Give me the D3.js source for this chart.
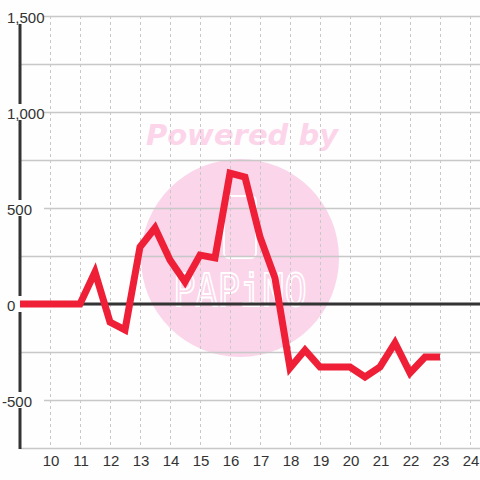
<!DOCTYPE html>
<html>
<head>
<meta charset="utf-8">
<script src="https://cdn.jsdelivr.net/npm/d3@7"></script>
<style>
  body { margin: 0; background: #fdfefd; }
  svg { display: block; font-family: "Liberation Sans", Arial, sans-serif; }
</style>
</head>
<body>
<svg width="480" height="480"></svg>
<script>
  const xs = [9, 9.5, 10, 10.5, 11, 11.5, 12, 12.5, 13, 13.5, 14, 14.5, 15, 15.5,
              16, 16.5, 17, 17.5, 18, 18.5, 19, 19.5, 20, 20.5, 21, 21.5, 22, 22.5, 23];
  const values = [0, 0, 0, 0, 0, 167, -94, -135, 297, 396, 229, 115, 255, 240,
                  682, 661, 349, 135, -333, -240, -328, -328, -328, -380, -328, -203, -359, -276, -276];
  const yTicks = [-500, 0, 500, 1000, 1500];
  const yGrid = [-750, -500, -250, 0, 250, 500, 750, 1000, 1250, 1500];
  const xTicks = [10, 11, 12, 13, 14, 15, 16, 17, 18, 19, 20, 21, 22, 23, 24];

  const svg = d3.select('svg');

  const x = d3.scaleLinear().domain([9, 24]).range([20, 470]);
  const y = d3.scaleLinear().domain([-750, 1500]).range([448, 16]);

  // watermark
  const wm = svg.append('g');
  wm.append('circle').attr('cx', 240).attr('cy', 258).attr('r', 99).attr('fill', '#fbd5ea');
  wm.append('text')
    .attr('x', 242).attr('y', 145)
    .attr('text-anchor', 'middle')
    .attr('font-family', 'DejaVu Sans, sans-serif')
    .attr('font-size', 29).attr('font-weight', 'bold').attr('font-style', 'italic')
    .attr('fill', '#fcd5ea')
    .text('Powered by');
  wm.append('rect')
    .attr('x', 224).attr('y', 196).attr('width', 32).attr('height', 62).attr('rx', 5)
    .attr('fill', 'none').attr('stroke', '#fff').attr('stroke-width', 2);
  wm.append('text')
    .attr('transform', 'translate(240,306) scale(1,1.2)')
    .attr('text-anchor', 'middle')
    .attr('font-size', 37).attr('letter-spacing', 0)
    .attr('fill', 'none').attr('stroke', '#fff').attr('stroke-width', 1.5)
    .attr('font-family', 'DejaVu Sans Mono, monospace')
    .text('PAPiNO');

  // grid
  svg.append('g').selectAll('line').data(yGrid).enter().append('line')
    .attr('x1', 20).attr('x2', 480)
    .attr('y1', d => y(d) + 0.5).attr('y2', d => y(d) + 0.5)
    .attr('stroke', '#c8c8c8').attr('stroke-width', 1.5);

  svg.append('g').selectAll('line').data(xTicks).enter().append('line')
    .attr('x1', d => x(d) + 0.5).attr('x2', d => x(d) + 0.5)
    .attr('y1', 16).attr('y2', 448)
    .attr('stroke', '#c8c8c8').attr('stroke-width', 1).attr('stroke-dasharray', '3,3');

  // zero line and y axis
  svg.append('line')
    .attr('x1', 20).attr('x2', 480).attr('y1', y(0)).attr('y2', y(0))
    .attr('stroke', '#333').attr('stroke-width', 3);
  svg.append('line')
    .attr('x1', 20).attr('x2', 20).attr('y1', 16).attr('y2', 449)
    .attr('stroke', '#333').attr('stroke-width', 3);

  // y labels with background
  const fmt = d3.format(',');
  const yl = svg.append('g').selectAll('g').data(yTicks).enter().append('g')
    .attr('transform', d => `translate(0,${y(d)})`);
  yl.append('rect')
    .attr('x', 0).attr('y', -8).attr('width', 44).attr('height', 16)
    .attr('fill', '#fdfefd');
  yl.append('text')
    .attr('x', d => d < 0 ? 2 : 7).attr('y', 1)
    .attr('dominant-baseline', 'central')
    .attr('font-size', 15).attr('fill', '#333')
    .text(d => fmt(d).replace('\u2212', '-'));

  // series
  const line = d3.line().x((d, i) => x(xs[i])).y(d => y(d));
  svg.append('path')
    .attr('d', line(values))
    .attr('fill', 'none')
    .attr('stroke', '#ee1f37').attr('stroke-width', 7)
    .attr('stroke-linejoin', 'miter');

  // x labels
  svg.append('g').selectAll('text').data(xTicks).enter().append('text')
    .attr('x', d => x(d) + 1).attr('y', 466)
    .attr('text-anchor', 'middle')
    .attr('font-size', 15).attr('fill', '#333')
    .text(d => d);
</script>
</body>
</html>
